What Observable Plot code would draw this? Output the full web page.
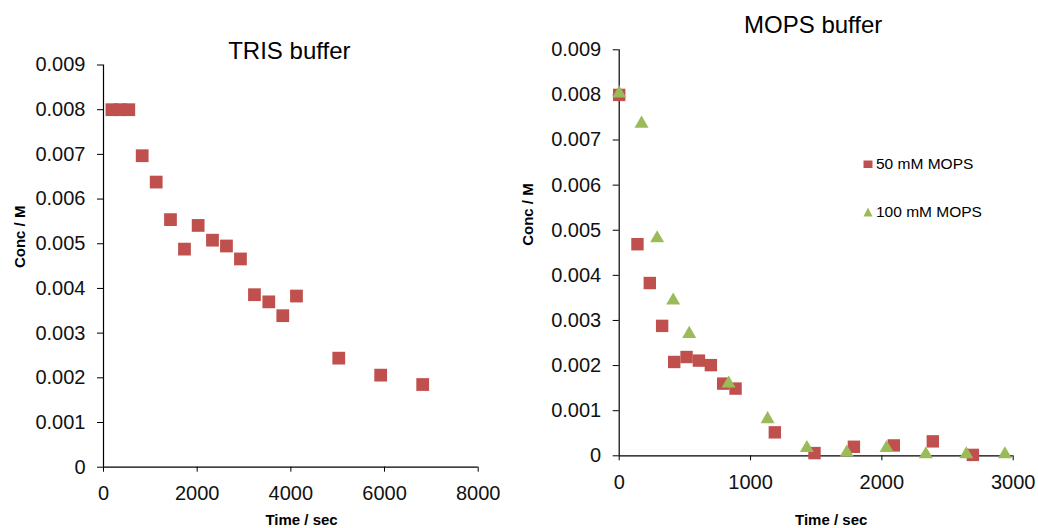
<!DOCTYPE html>
<html>
<head>
<meta charset="utf-8">
<script src="https://cdn.jsdelivr.net/npm/d3@7"></script>
<script src="https://cdn.jsdelivr.net/npm/@observablehq/plot@0.6"></script>
<style>
  html, body { margin: 0; padding: 0; background: #fff; }
  #wrap { position: relative; width: 1038px; height: 528px; font-family: "Liberation Sans", Arial, sans-serif; }
  #left, #right { position: absolute; top: 0; }
  #left { left: 0; }
  #right { left: 519px; }
  svg { overflow: visible; }
  .leg { position: absolute; display: flex; align-items: center; gap: 3px; font-size: 15.5px; line-height: 20px; color: #000; height: 20px; }
</style>
</head>
<body>
<div id="wrap">
  <div id="left"></div>
  <div id="right"></div>
  <div id="legend"></div>
</div>
<script>
// ---- Data ----
const trisTime = [180, 360, 540, 826, 1125, 1430, 1729, 2021, 2327, 2625, 2924, 3223, 3529, 3828, 4120, 5023, 5918, 6815];
const trisConc = [0.0080, 0.0080, 0.0080, 0.00697, 0.00638, 0.00554, 0.00488, 0.00541, 0.00508, 0.00495, 0.00466, 0.00386, 0.00370, 0.00339, 0.00383, 0.00244, 0.00206, 0.00185];

const mops50Time = [0, 139, 233, 327, 419, 513, 607, 698, 792, 886, 1185, 1487, 1787, 2091, 2388, 2693];
const mops50Conc = [0.0080, 0.00469, 0.00383, 0.00288, 0.00208, 0.00219, 0.00211, 0.00201, 0.00160, 0.00149, 0.00052, 0.00006, 0.00020, 0.00023, 0.00032, 0.00002];

const mops100Time = [0, 170, 289, 411, 533, 833, 1130, 1429, 1733, 2036, 2335, 2643, 2937];
const mops100Conc = [0.0080, 0.00733, 0.00479, 0.00341, 0.00267, 0.00157, 0.00078, 0.00014, 0.00004, 0.00014, 0, 0, 0];

const yTicks = [0, 0.001, 0.002, 0.003, 0.004, 0.005, 0.006, 0.007, 0.008, 0.009];
const trisXTicks = [0, 2000, 4000, 6000, 8000];
const mopsXTicks = [0, 1000, 2000, 3000];

const seriesNames = ["50 mM MOPS", "100 mM MOPS"];
const titles = ["TRIS buffer", "MOPS buffer"];
const xLabel = "Time / sec";
const yLabel = "Conc / M";

const RED = "#C0504D";
const GREEN = "#9BBB59";
const FONT = "Liberation Sans, Arial, sans-serif";

const tris = trisTime.map((t, i) => ({t, c: trisConc[i]}));
const m50 = mops50Time.map((t, i) => ({t, c: mops50Conc[i]}));
const m100 = mops100Time.map((t, i) => ({t, c: mops100Conc[i]}));

const yFmt = d => d === 0 ? "0" : d.toFixed(3);
const xFmt = d => String(d);

function axes(xTicks) {
  return [
    Plot.axisY(yTicks, {tickFormat: yFmt, tickSize: 6, tickPadding: 12, fontSize: 20, label: null, stroke: "#000", color: "#111"}),
    Plot.axisX(xTicks, {tickFormat: xFmt, tickSize: 5, tickPadding: 14, fontSize: 20, label: null, stroke: "#000", color: "#111"}),
    Plot.ruleX([0], {stroke: "#000", strokeWidth: 1.2}),
    Plot.ruleY([0], {stroke: "#000", strokeWidth: 1.2})
  ];
}

// ---- Left: TRIS ----
const left = Plot.plot({
  width: 519, height: 528,
  marginLeft: 103, marginRight: 41.3, marginTop: 64.5, marginBottom: 61.3,
  style: {fontFamily: FONT, background: "transparent", color: "#111"},
  x: {domain: [0, 8000]},
  y: {domain: [0, 0.009]},
  marks: [
    ...axes(trisXTicks),
    Plot.dot(tris, {x: "t", y: "c", symbol: "square", r: 7.2, fill: RED, stroke: "none"}),
    Plot.text([titles[0]], {text: d => d, frameAnchor: "top", lineAnchor: "top", dy: -23.2, dx: -1.5, fontSize: 24, fill: "#000"}),
    Plot.text([xLabel], {text: d => d, frameAnchor: "bottom", lineAnchor: "top", dy: 47.3, dx: 10.7, fontSize: 15, fontWeight: "bold", fill: "#000"}),
    Plot.text([yLabel], {text: d => d, frameAnchor: "left", rotate: -90, dx: -83, dy: 2, fontSize: 15, fontWeight: "bold", fill: "#000"})
  ]
});
document.getElementById("left").appendChild(left);

// ---- Right: MOPS ----
const right = Plot.plot({
  width: 519, height: 528,
  marginLeft: 99.7, marginRight: 25.3, marginTop: 49.3, marginBottom: 72.7,
  style: {fontFamily: FONT, background: "transparent", color: "#111"},
  x: {domain: [0, 3000]},
  y: {domain: [0, 0.009]},
  marks: [
    ...axes(mopsXTicks),
    Plot.dot(m50, {x: "t", y: "c", symbol: "square", r: 7.0, fill: RED, stroke: "none"}),
    Plot.dot(m100, {x: "t", y: "c", symbol: "triangle", r: 5.2, fill: GREEN, stroke: "none", dy: -1.5}),
    Plot.text([titles[1]], {text: d => d, frameAnchor: "top", lineAnchor: "top", dy: -34, dx: -3, fontSize: 24, fill: "#000"}),
    Plot.text([xLabel], {text: d => d, frameAnchor: "bottom", lineAnchor: "top", dy: 58.7, dx: 15, fontSize: 15, fontWeight: "bold", fill: "#000"}),
    Plot.text([yLabel], {text: d => d, frameAnchor: "left", rotate: -90, dx: -91, dy: -7, fontSize: 15, fontWeight: "bold", fill: "#000"})
  ]
});
document.getElementById("right").appendChild(right);

// ---- Legend (HTML) ----
const legend = document.getElementById("legend");
const legendItems = [
  {name: seriesNames[0], color: RED, shape: "square", top: 154},
  {name: seriesNames[1], color: GREEN, shape: "triangle", top: 202}
];
for (const it of legendItems) {
  const row = document.createElement("div");
  row.className = "leg";
  row.style.left = "863px";
  row.style.top = it.top + "px";
  const svgNS = "http://www.w3.org/2000/svg";
  const s = document.createElementNS(svgNS, "svg");
  s.setAttribute("width", "10");
  s.setAttribute("height", "10");
  const p = document.createElementNS(svgNS, "path");
  p.setAttribute("d", it.shape === "square" ? "M0.5,1.5H9.5V9H0.5Z" : "M5,0.5L9.5,9.5H0.5Z");
  p.setAttribute("fill", it.color);
  s.appendChild(p);
  const span = document.createElement("span");
  span.textContent = it.name;
  row.appendChild(s);
  row.appendChild(span);
  legend.appendChild(row);
}
</script>
</body>
</html>
